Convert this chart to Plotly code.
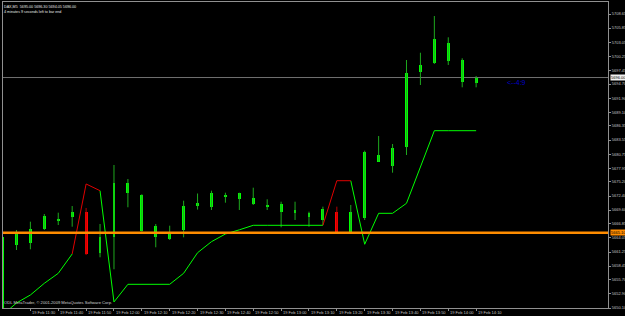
import plotly.graph_objects as go

# ---------------- data ----------------
times = [
    "2010-02-19 11:20", "2010-02-19 11:25", "2010-02-19 11:30", "2010-02-19 11:35",
    "2010-02-19 11:40", "2010-02-19 11:45", "2010-02-19 11:50", "2010-02-19 11:55",
    "2010-02-19 12:00", "2010-02-19 12:05", "2010-02-19 12:10", "2010-02-19 12:15",
    "2010-02-19 12:20", "2010-02-19 12:25", "2010-02-19 12:30", "2010-02-19 12:35",
    "2010-02-19 12:40", "2010-02-19 12:45", "2010-02-19 12:50", "2010-02-19 12:55",
    "2010-02-19 13:00", "2010-02-19 13:05", "2010-02-19 13:10", "2010-02-19 13:15",
    "2010-02-19 13:20", "2010-02-19 13:25", "2010-02-19 13:30", "2010-02-19 13:35",
    "2010-02-19 13:40", "2010-02-19 13:45", "2010-02-19 13:50", "2010-02-19 13:55",
    "2010-02-19 14:00", "2010-02-19 14:05", "2010-02-19 14:10",
]
opens = [5647.80, 5662.65, 5662.99, 5665.83, 5667.49, 5668.16, 5669.28, 5661.12,
         5664.30, 5672.94, 5665.44, 5664.18, 5663.84, 5665.64, 5670.41, 5670.28,
         5672.27, 5671.75, 5670.75, 5670.28, 5669.28, 5668.96, 5668.28, 5667.63,
         5669.28, 5665.30, 5667.97, 5679.24, 5678.38, 5682.22, 5697.16, 5698.83,
         5699.35, 5695.17, 5695.00]
highs = [5664.40, 5665.64, 5667.29, 5668.82, 5669.08, 5670.41, 5670.02, 5666.83,
         5678.58, 5675.79, 5672.75, 5666.83, 5666.49, 5671.47, 5672.90, 5673.46,
         5673.06, 5673.06, 5674.06, 5671.75, 5671.27, 5671.27, 5669.28, 5670.28,
         5670.28, 5670.62, 5681.43, 5684.35, 5682.76, 5699.49, 5700.94, 5708.25,
         5704.01, 5699.83, 5696.30]
lows = [5647.00, 5661.65, 5661.79, 5665.64, 5666.63, 5666.29, 5660.66, 5660.20,
        5657.81, 5670.16, 5665.30, 5662.19, 5663.64, 5664.18, 5669.70, 5669.62,
        5671.07, 5669.62, 5670.62, 5669.62, 5666.17, 5667.63, 5666.29, 5666.63,
        5665.10, 5665.24, 5667.63, 5679.24, 5677.05, 5680.57, 5694.51, 5698.70,
        5698.50, 5694.05, 5694.05]
closes = [5664.30, 5664.84, 5665.83, 5668.42, 5667.83, 5669.28, 5660.86, 5664.18,
          5674.94, 5675.05, 5672.61, 5666.43, 5665.30, 5670.48, 5671.07, 5672.94,
          5672.61, 5672.94, 5671.95, 5670.62, 5670.81, 5669.62, 5668.96, 5669.76,
          5665.30, 5669.28, 5681.23, 5680.57, 5681.91, 5696.96, 5698.50, 5703.61,
          5702.94, 5699.49, 5696.00]

trail_stop = [5648.70, 5651.10, 5652.69, 5655.02, 5657.01, 5660.86, 5674.80, 5673.46,
              5651.30, 5654.82, 5654.82, 5654.82, 5654.82, 5657.01, 5661.11, 5663.31,
              5664.84, 5665.67, 5666.57, 5666.57, 5666.57, 5666.57, 5666.57, 5666.57,
              5675.45, 5675.45, 5662.79, 5668.96, 5668.96, 5670.95, 5678.18, 5685.41,
              5685.41, 5685.41, 5685.41]
trend = ["up", "up", "up", "up", "up", "up", "down", "down",
         "up", "up", "up", "up", "up", "up", "up", "up",
         "up", "up", "up", "up", "up", "up", "up", "up",
         "down", "down", "up", "up", "up", "up", "up", "up",
         "up", "up", "up"]

bid_price = 5696.00
level_price = 5665.10
timer_time = "2010-02-19 14:20"
timer_text = "&lt;--4:9"

x_tick_vals = ["2010-02-19 11:20", "2010-02-19 11:30", "2010-02-19 11:40", "2010-02-19 11:50",
               "2010-02-19 12:00", "2010-02-19 12:10", "2010-02-19 12:20", "2010-02-19 12:30",
               "2010-02-19 12:40", "2010-02-19 12:50", "2010-02-19 13:00", "2010-02-19 13:10",
               "2010-02-19 13:20", "2010-02-19 13:30", "2010-02-19 13:40", "2010-02-19 13:50",
               "2010-02-19 14:00", "2010-02-19 14:10"]
x_tick_text = ["19 Feb 2010", "19 Feb 11:30", "19 Feb 11:40", "19 Feb 11:50",
               "19 Feb 12:00", "19 Feb 12:10", "19 Feb 12:20", "19 Feb 12:30",
               "19 Feb 12:40", "19 Feb 12:50", "19 Feb 13:00", "19 Feb 13:10",
               "19 Feb 13:20", "19 Feb 13:30", "19 Feb 13:40", "19 Feb 13:50",
               "19 Feb 14:00", "19 Feb 14:10"]
y_tick_vals = [5708.65, 5705.85, 5703.05, 5700.25, 5697.45, 5694.70, 5691.90, 5689.10,
               5686.35, 5683.55, 5680.75, 5677.95, 5675.20, 5672.40, 5669.60, 5666.85,
               5664.05, 5661.25, 5658.45, 5655.70, 5652.90, 5650.10]

header_1 = "DAX,M5  5695.00 5696.30 5694.05 5696.00"
header_2 = "4 minutes 9 seconds left to bar end"
copyright_text = "ODL MetaTrader, \u00a9 2001-2009 MetaQuotes Software Corp."

# ---------------- figure ----------------
FONT = "Liberation Sans"
GREEN_BODY = "#00ff00"
GREEN_WICK = "#1ea81e"
RED_BODY = "#ff0000"
RED_WICK = "#b40000"

fig = go.Figure()

# wicks
for bear, col in ((False, GREEN_WICK), (True, RED_WICK)):
    wx, wy = [], []
    for t, o, h, l, c in zip(times, opens, highs, lows, closes):
        if (c < o) == bear:
            wx += [t, t, None]
            wy += [l, h, None]
    fig.add_trace(go.Scatter(x=wx, y=wy, mode="lines", line=dict(color=col, width=1),
                             hoverinfo="skip", showlegend=False))

# bodies
for bear, col in ((False, GREEN_BODY), (True, RED_BODY)):
    bx, bbase, bh = [], [], []
    for t, o, c in zip(times, opens, closes):
        if (c < o) == bear:
            bx.append(t)
            bbase.append(min(o, c))
            bh.append(abs(c - o))
    fig.add_trace(go.Bar(x=bx, y=bh, base=bbase, width=62000,
                         marker=dict(color=col, line=dict(width=0)),
                         showlegend=False, hoverinfo="skip"))

# trailing-stop line, split into green (up) and red (down) parts
n = len(times)
green_y, red_y = [], []
for i in range(n):
    g = trend[i] == "up" or (i + 1 < n and trend[i + 1] == "up" and trend[i] == "down")
    r = trend[i] == "down" or (i + 1 < n and trend[i + 1] == "down")
    green_y.append(trail_stop[i] if g else None)
    red_y.append(trail_stop[i] if r else None)
for i in range(n):
    if trend[i] == "down" and i > 0 and trend[i - 1] == "up":
        green_y[i] = None
fig.add_trace(go.Scatter(x=times, y=green_y, mode="lines", connectgaps=False,
                         line=dict(color="#00ff00", width=1), showlegend=False, hoverinfo="skip"))
fig.add_trace(go.Scatter(x=times, y=red_y, mode="lines", connectgaps=False,
                         line=dict(color="#e00000", width=1), showlegend=False, hoverinfo="skip"))

# horizontal lines
fig.add_hline(y=bid_price, line=dict(color="#707070", width=1), layer="below")
fig.add_hline(y=level_price, line=dict(color="#ff8c00", width=2.6))

# price labels on right axis
fig.add_annotation(x=1, xref="paper", y=bid_price, yref="y", text=f"{bid_price:.2f}",
                   xanchor="left", yanchor="middle", showarrow=False, xshift=2,
                   bgcolor="#f0f0f0", font=dict(family=FONT, size=4, color="#000000"),
                   borderpad=0)
fig.add_annotation(x=1, xref="paper", y=level_price, yref="y", text=f"{level_price:.2f}",
                   xanchor="left", yanchor="middle", showarrow=False, xshift=2,
                   bgcolor="#ff8c00", font=dict(family=FONT, size=4, color="#000000"),
                   borderpad=0)

# countdown text
fig.add_annotation(x=timer_time, y=bid_price - 0.9, text=timer_text, showarrow=False,
                   xanchor="left", yanchor="middle", xshift=1,
                   font=dict(family=FONT, size=7, color="#0000c8"))

# time-axis labels (left-aligned at their tick, MetaTrader style)
for tv, tt in zip(x_tick_vals, x_tick_text):
    fig.add_annotation(x=tv, xref="x", y=0, yref="paper", text=tt, showarrow=False,
                       xanchor="left", yanchor="middle", xshift=0, yshift=-4.5,
                       font=dict(family=FONT, size=4, color="#c0c0c0"))

# header texts
fig.add_annotation(x=0, xref="paper", y=1, yref="paper", text=header_1, showarrow=False,
                   xanchor="left", yanchor="top", xshift=-1, yshift=-1,
                   font=dict(family=FONT, size=3.7, color="#e8e8e8"))
fig.add_annotation(x=0, xref="paper", y=1, yref="paper", text=header_2, showarrow=False,
                   xanchor="left", yanchor="top", xshift=-1, yshift=-6,
                   font=dict(family=FONT, size=3.7, color="#e8e8e8"))
fig.add_annotation(x=0, xref="paper", y=0, yref="paper", text=copyright_text, showarrow=False,
                   xanchor="left", yanchor="bottom", xshift=-1, yshift=1,
                   font=dict(family=FONT, size=4.1, color="#d0d0d0"))

fig.update_layout(
    width=625, height=316,
    margin=dict(l=3, r=17, t=2, b=8, pad=0),
    paper_bgcolor="#000000", plot_bgcolor="#000000",
    bargap=0, barmode="overlay",
    showlegend=False,
    font=dict(family=FONT, size=4, color="#c0c0c0"),
)
fig.update_xaxes(
    type="date",
    range=["2010-02-19 11:20:10", "2010-02-19 14:57:20"],
    tickvals=x_tick_vals, showticklabels=False,
    ticks="outside", ticklen=2, tickcolor="#909090", tickwidth=1,
    showgrid=False, zeroline=False,
    showline=True, linecolor="#909090", linewidth=1, mirror=True,
    automargin=False, fixedrange=True,
)
fig.update_yaxes(
    range=[5650.10, 5711.04], side="right",
    tickvals=y_tick_vals, ticktext=[f"{v:.2f}" for v in y_tick_vals],
    ticks="outside", ticklen=2, tickcolor="#909090", tickwidth=1,
    tickfont=dict(family=FONT, size=4, color="#c0c0c0"),
    showgrid=False, zeroline=False,
    showline=True, linecolor="#909090", linewidth=1, mirror=True,
    automargin=False, fixedrange=True,
)

fig.write_html("out.html")
